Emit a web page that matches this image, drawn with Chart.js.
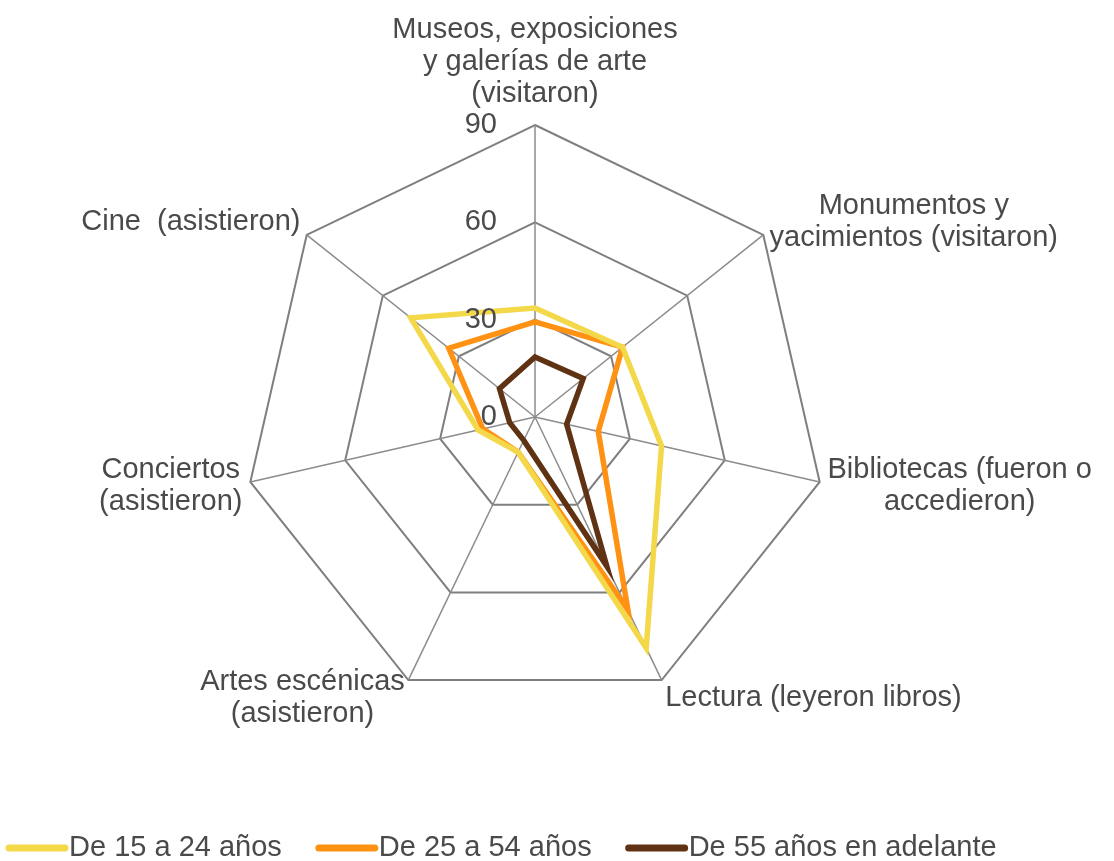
<!DOCTYPE html>
<html>
<head>
<meta charset="utf-8">
<script src="https://cdn.jsdelivr.net/npm/chart.js@4/dist/chart.umd.min.js"></script>
<style>
  body { margin: 0; background: #fff; }
  #wrap { width: 1114px; height: 861px; }
</style>
</head>
<body>
<div id="wrap"><canvas id="radar"></canvas></div>
<script>
// categorías (en el sentido de las agujas del reloj desde arriba)
const categorias = [
  ['Museos, exposiciones', 'y galerías de arte', '(visitaron)'],
  ['Monumentos y', 'yacimientos (visitaron)'],
  ['Bibliotecas (fueron o', 'accedieron)'],
  ['Lectura (leyeron libros)'],
  ['Artes escénicas', '(asistieron)'],
  ['Conciertos', '(asistieron)'],
  ['Cine  (asistieron)']
];

// porcentajes por grupo de edad
const de15a24 = [33.6, 34.5, 40, 79, 12, 18, 49];
const de25a54 = [29.3, 34.5, 20, 66, 12, 16.5, 34];
const de55mas = [18.5, 19, 10, 51, 8, 8, 14];

const marcas = [0, 30, 60, 90];

const FUENTE = '"Liberation Sans", Arial, sans-serif';
const COLOR_TEXTO = '#4a4a4a';

// etiquetas de los ejes, centradas línea a línea
const etiquetasEjes = {
  id: 'etiquetasEjes',
  afterDraw(chart) {
    const scale = chart.scales.r;
    const ctx = chart.ctx;
    const lh = 32;
    ctx.save();
    ctx.font = '29px ' + FUENTE;
    ctx.fillStyle = COLOR_TEXTO;
    ctx.textBaseline = 'middle';
    ctx.textAlign = 'center';
    categorias.forEach((lineas, i) => {
      const a = scale.getIndexAngle(i);
      const p = scale.getPointPosition(i, scale.drawingArea + 8);
      const ancho = Math.max(...lineas.map(l => ctx.measureText(l).width));
      const alto = lineas.length * lh;
      let cx = p.x;
      if (Math.sin(a) > 0.05) cx = p.x + ancho / 2;
      else if (Math.sin(a) < -0.05) cx = p.x - ancho / 2;
      let top;
      if (Math.cos(a) > 0.9) top = p.y - 7 - alto;
      else top = p.y + 12 * -Math.cos(a) - alto / 2;
      lineas.forEach((l, k) => ctx.fillText(l, cx, top + lh * k + lh / 2));
    });
    ctx.restore();
  }
};

// valores de la escala, a la izquierda del eje vertical
const valoresEscala = {
  id: 'valoresEscala',
  afterDatasetsDraw(chart) {
    const scale = chart.scales.r;
    const ctx = chart.ctx;
    ctx.save();
    ctx.font = '29px ' + FUENTE;
    ctx.fillStyle = COLOR_TEXTO;
    ctx.textAlign = 'right';
    ctx.textBaseline = 'middle';
    marcas.forEach(v => {
      const d = scale.getDistanceFromCenterForValue(v);
      ctx.fillText(String(v), scale.xCenter - 38, scale.yCenter - d);
    });
    ctx.restore();
  }
};

// leyenda inferior
const leyenda = {
  id: 'leyenda',
  afterDraw(chart) {
    const ctx = chart.ctx;
    const y = 848;
    let x = 5;
    ctx.save();
    ctx.font = '29px ' + FUENTE;
    ctx.textBaseline = 'middle';
    ctx.textAlign = 'left';
    chart.data.datasets.forEach(ds => {
      ctx.strokeStyle = ds.borderColor;
      ctx.lineWidth = 7;
      ctx.lineCap = 'round';
      ctx.beginPath();
      ctx.moveTo(x + 4, y);
      ctx.lineTo(x + 60, y);
      ctx.stroke();
      ctx.fillStyle = COLOR_TEXTO;
      ctx.fillText(ds.label, x + 64, y);
      x += 64 + ctx.measureText(ds.label).width + 33;
    });
    ctx.restore();
  }
};

new Chart(document.getElementById('radar'), {
  type: 'radar',
  data: {
    labels: categorias,
    datasets: [
      { label: 'De 15 a 24 años', data: de15a24, borderColor: '#f3d84a', borderWidth: 5.5, fill: false, pointRadius: 0 },
      { label: 'De 25 a 54 años', data: de25a54, borderColor: '#ff9212', borderWidth: 5.5, fill: false, pointRadius: 0 },
      { label: 'De 55 años en adelante', data: de55mas, borderColor: '#5e3212', borderWidth: 5.5, fill: false, pointRadius: 0 }
    ]
  },
  options: {
    responsive: true,
    maintainAspectRatio: false,
    animation: false,
    layout: { padding: { top: 125, bottom: 152, left: 0, right: 44 } },
    plugins: {
      legend: { display: false },
      tooltip: { enabled: false }
    },
    elements: { line: { tension: 0 } },
    scales: {
      r: {
        min: 0,
        max: 90,
        ticks: { stepSize: 30, display: false },
        pointLabels: { display: false },
        grid: { color: '#7f7f7f', lineWidth: 2 },
        angleLines: { color: '#8c8c8c', lineWidth: 1.5 }
      }
    }
  },
  plugins: [etiquetasEjes, valoresEscala, leyenda]
});
</script>
</body>
</html>
